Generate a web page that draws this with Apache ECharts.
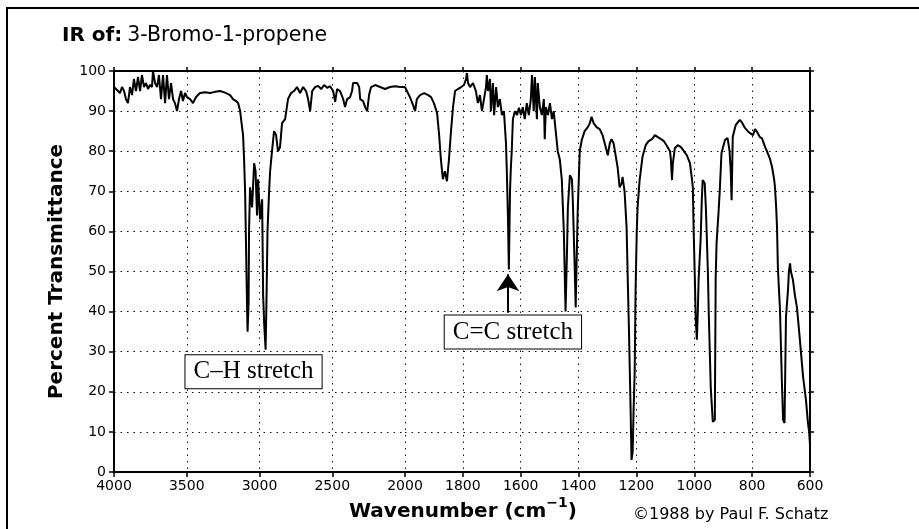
<!DOCTYPE html>
<html><head><meta charset="utf-8">
<script src="https://cdn.jsdelivr.net/npm/echarts@6/dist/echarts.min.js"></script>
<style>html,body{margin:0;padding:0;background:#fff}#c{width:919px;height:529px}</style>
</head><body><div id="c"></div>
<script>
// IR spectrum of 3-Bromo-1-propene
const wavenumber = [
4000,3986,3972,3959,3945,3931,3918,3904,3890,3876,3863,3849,3835,3821,3808,3794,3780,3766,3753,3739,
3732,3718,3704,3691,3677,3663,3649,3636,3622,3608,3594,3581,3567,3553,3539,3526,3512,3498,3477,3457,
3436,3409,3374,3340,3305,3271,3237,3202,3182,3161,3147,3133,3120,3113,3106,3099,3092,3085,3082,3075,
3072,3065,3051,3037,3027,3017,3010,2996,2982,2975,2968,2958,2951,2945,2934,2927,2914,2900,2886,2873,
2859,2845,2824,2804,2783,2763,2742,2721,2700,2680,2666,2652,2638,2618,2597,2576,2556,2535,2515,2494,
2480,2467,2446,2425,2412,2398,2377,2364,2357,2329,2315,2308,2288,2274,2260,2247,2233,2205,2171,2137,
2102,2068,2034,2000,
1990,1983,1972,1965,1959,1948,1934,1920,1910,1900,1889,1882,1876,1869,1862,1855,1848,1841,1834,1827,
1817,1806,1796,1789,1786,1782,1775,1765,1755,1748,1741,1734,1727,1720,1717,1713,1706,1703,1696,1692,
1685,1679,1672,1665,1658,1651,1648,1644,1641,1637,1634,1631,1627,1620,1613,1606,1599,1593,1586,1579,
1572,1565,1561,1555,1551,1544,1541,1534,1527,1520,1517,1513,1506,1499,1492,1486,1479,1472,1465,1458,
1451,1445,1440,1437,1430,1423,1420,1413,1410,1406,1403,1396,1389,1379,1368,1361,1355,1348,1338,1327,
1317,1306,1299,1292,1286,1279,1272,1265,1258,1251,1248,1241,1234,1229,1226,1220,1217,1213,1210,1206,
1203,1199,1196,1189,1179,1168,1158,1146,1136,1126,1115,1105,1096,1084,1081,1077,1074,1067,1057,1046,
1036,1026,1015,1008,1005,1002,998,995,991,988,985,978,974,971,967,964,960,953,950,943,
936,929,926,923,916,912,906,894,885,878,874,871,867,857,843,836,825,815,807,797,
790,783,773,766,755,749,738,731,724,721,717,714,711,707,704,697,693,688,683,676,
673,669,666,659,652,645,635,624,614,607,603,600
];
const transmittance = [
96,95.5,95,94.5,96,95,93,92,96,94,98,95,98.5,95,99,96,97,95.5,96.5,96,
100,97,96,99,93,99,92,99,93,97,93,92,90,93,95,92.5,94.5,93.5,93,92,
93.5,94.5,94.7,94.5,94.8,95,94.6,94,93,92.5,92,90,86,84,78,70,55,40,35,42,
60,71,66,77,75,64,73,63,68,44,37,30.5,45,60,70,75,80,85,84,80,
81,87,88,93,94.5,95,96,94.5,96,95,93,90,95,96,96.3,95.5,96.5,95.8,96.2,95,
92.3,95.5,95,93,91,93,93.5,95,97,97,96,93,92.5,91,90,94,96,96.5,96,95.5,
96,96.2,96,96,
94.5,93.5,91.5,90,93,94,94.5,94,93.5,92,89.5,84,78,73,75,72.5,78,85,91,95,
95.5,96,96.5,98,99.5,97,96,97,95,92,94,90,93,96,99,95,98,90,97,89,
96,91,93,89,90,82,75,63,50.5,70,76,80,88,90,89,90.8,89,91,88,92,
89,93,99,90,98.5,88,97,91,89,93,83,91,89,92,88,90,85,80,78,73,
60,40,55,66,74,73,68,50,41,55,65,80,82.8,85,86,87,88.6,87,86,85.5,
84,81,79,82,83,82,79,76,71,72,73.6,70,61,45,36,15,3,5,15,25,
45,59.6,66,72.8,78.6,81.5,82.5,83,84,83.5,83,82.5,81.5,80,78,72.8,77,80.8,81.5,81,
80,79,77,73,71,59.6,48,38,33,39.6,48,58,68,72.8,72.8,72,66,50,39.6,21,
12.5,13,48.6,57,65,70,79.5,82.8,83.3,80,75,67.8,83.6,86.5,87.8,87.3,85.8,85,84.5,84,
85.5,84.8,83.5,83.2,81,80,78,76,73,71,66,61,51,45,41,22,13,12.2,38.7,45.4,
50,52,50,47.9,44,41,33,23.8,18,12.2,10,6.7
];
const xTicksHigh = [4000, 3500, 3000, 2500, 2000];
const xTicksLow = [1800, 1600, 1400, 1200, 1000, 800, 600];
const yTicks = [0, 10, 20, 30, 40, 50, 60, 70, 80, 90, 100];
const annotations = [
  { text: 'C–H stretch', wn: 3041, t: 25 },
  { text: 'C=C stretch', wn: 1627, t: 34.9 }
];
const arrowMark = { wn: 1644, from: 39.7, to: 49.3 };

const high = [], low = [];
for (let i = 0; i < wavenumber.length; i++) {
  if (wavenumber[i] >= 2000) high.push([wavenumber[i], transmittance[i]]);
  if (wavenumber[i] <= 2000) low.push([wavenumber[i], transmittance[i]]);
}

const FONT = 'DejaVu Sans';
const axisLine = { show: true, lineStyle: { color: '#000', width: 2 } };
const tick = { show: true, length: 5, lineStyle: { color: '#000', width: 1.5 } };
const tickSmall = { show: true, length: 4, lineStyle: { color: '#000', width: 1.5 } };
const split = { show: true, lineStyle: { color: '#111', width: 1, type: [1.5, 5] } };
const lbl = { color: '#000', fontFamily: FONT, fontSize: 14 };

function mp(a) {
  return {
    symbol: 'circle', symbolSize: 1, silent: true, animation: false,
    itemStyle: { color: 'rgba(0,0,0,0)' },
    label: {
      show: true, position: 'inside', formatter: a.text,
      fontFamily: 'Liberation Serif', fontSize: 25, color: '#000', lineHeight: 29,
      backgroundColor: '#fff', borderColor: '#000', borderWidth: 1, padding: [2, 8, 2, 8]
    },
    data: [{ coord: [a.wn, a.t] }]
  };
}

const chart = echarts.init(document.getElementById('c'), null, { renderer: 'canvas' });
chart.setOption({
  animation: false,
  backgroundColor: '#fff',
  graphic: [{ type: 'rect', silent: true, z: -10,
    shape: { x: 7, y: 8, width: 1200, height: 1200 },
    style: { fill: 'transparent', stroke: '#000', lineWidth: 2 } }],
  title: [
    { text: '{b|IR of:} {n|3-Bromo-1-propene}', left: 57, top: 20,
      textStyle: { fontWeight: 'normal', rich: {
        b: { fontFamily: FONT, fontSize: 20, fontWeight: 'bold', color: '#000' },
        n: { fontFamily: FONT, fontSize: 20.5, fontWeight: 'normal', color: '#000' } } } },
    { text: '{m|Wavenumber (cm}{s|−1}{m|)}', left: 344, top: 491,
      textStyle: { fontWeight: 'bold', rich: {
        m: { fontFamily: FONT, fontSize: 20, fontWeight: 'bold', color: '#000', lineHeight: 26, verticalAlign: 'bottom' },
        s: { fontFamily: FONT, fontSize: 14, fontWeight: 'bold', color: '#000', lineHeight: 26, verticalAlign: 'top' } } } },
    { text: '©1988 by Paul F. Schatz', left: 628, top: 502,
      textStyle: { fontFamily: FONT, fontSize: 16, fontWeight: 'normal', color: '#000' } }
  ],
  grid: [
    { left: 114, top: 71, width: 291, height: 401 },
    { left: 405, top: 71, width: 405, height: 401 }
  ],
  xAxis: [
    { type: 'value', gridIndex: 0, min: 2000, max: 4000, interval: 500, inverse: true, position: 'bottom',
      axisLine, axisTick: tick, splitLine: split,
      axisLabel: Object.assign({ margin: 7, formatter: v => xTicksHigh.includes(v) ? String(v) : '' }, lbl) },
    { type: 'value', gridIndex: 0, min: 2000, max: 4000, interval: 500, inverse: true, position: 'top',
      axisLine, axisTick: tickSmall, splitLine: { show: false }, axisLabel: { show: false } },
    { type: 'value', gridIndex: 1, min: 600, max: 2000, interval: 200, inverse: true, position: 'bottom',
      axisLine, axisTick: tick, splitLine: Object.assign({ showMaxLine: false }, split),
      axisLabel: Object.assign({ margin: 7, showMaxLabel: false, formatter: v => xTicksLow.includes(v) ? String(v) : '' }, lbl) },
    { type: 'value', gridIndex: 1, min: 600, max: 2000, interval: 200, inverse: true, position: 'top',
      axisLine, axisTick: tickSmall, splitLine: { show: false }, axisLabel: { show: false } }
  ],
  yAxis: [
    { type: 'value', gridIndex: 0, min: 0, max: 100, interval: 10, position: 'left',
      axisLine, axisTick: tick, splitLine: split,
      axisLabel: Object.assign({ margin: 8, formatter: v => yTicks.includes(v) ? String(v) : '' }, lbl),
      name: 'Percent Transmittance', nameLocation: 'middle', nameGap: 47, nameRotate: 90,
      nameTextStyle: { fontFamily: FONT, fontSize: 20, fontWeight: 'bold', color: '#000' } },
    { type: 'value', gridIndex: 1, min: 0, max: 100, interval: 10, position: 'right',
      axisLine, axisTick: tickSmall, splitLine: split, axisLabel: { show: false } }
  ],
  series: [
    { type: 'line', xAxisIndex: 0, yAxisIndex: 0, data: high, showSymbol: false, silent: true,
      lineStyle: { color: '#000', width: 2 }, emphasis: { disabled: true }, z: 3,
      markPoint: mp(annotations[0]) },
    { type: 'line', xAxisIndex: 2, yAxisIndex: 1, data: low, showSymbol: false, silent: true,
      lineStyle: { color: '#000', width: 2 }, emphasis: { disabled: true }, z: 3,
      markPoint: mp(annotations[1]),
      markLine: { silent: true, animation: false, symbol: ['none', 'arrow'], symbolSize: 17,
        lineStyle: { color: '#000', width: 2, type: 'solid' }, label: { show: false },
        emphasis: { disabled: true },
        data: [[{ coord: [arrowMark.wn, arrowMark.from] }, { coord: [arrowMark.wn, arrowMark.to] }]] } }
  ]
});
</script></body></html>
